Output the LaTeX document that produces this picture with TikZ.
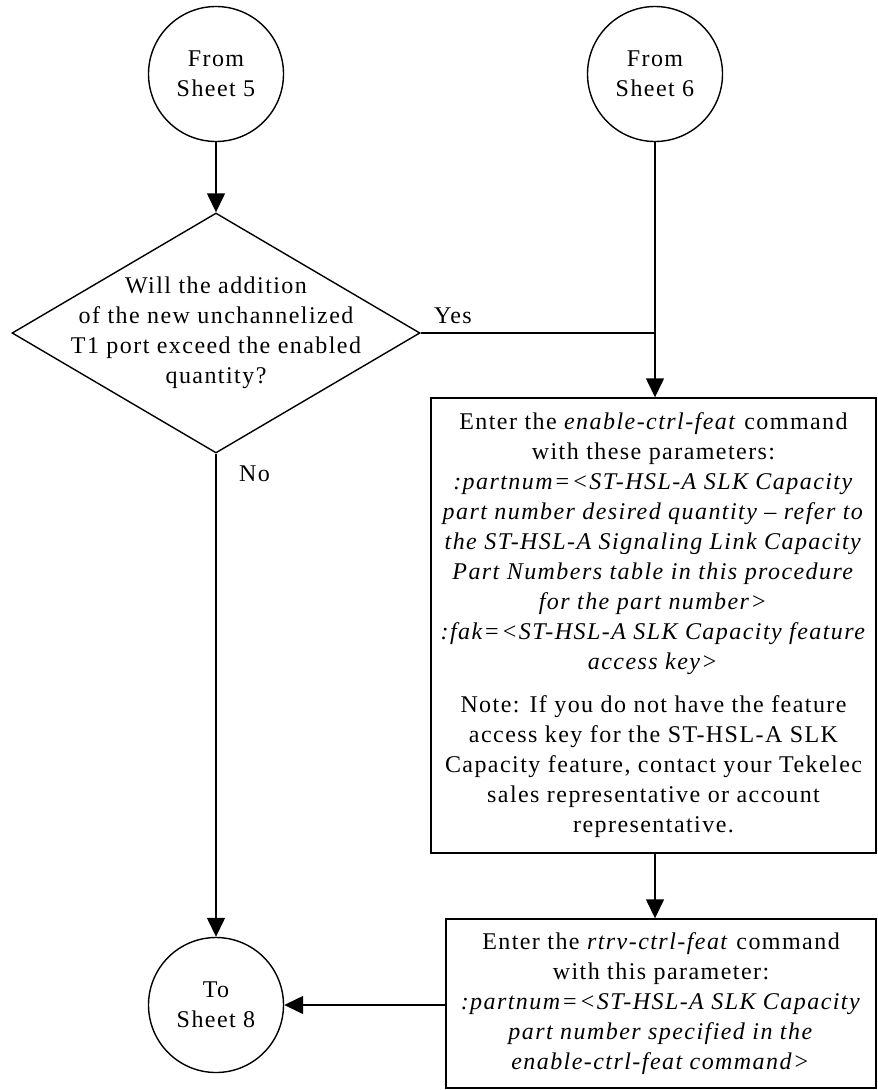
\documentclass[tikz,border=0pt]{standalone}
\usepackage{fontspec}
\setmainfont{Liberation Serif}[LetterSpace=6]
\usetikzlibrary{shapes.geometric,arrows.meta}
\begin{document}
\begin{tikzpicture}[x=1pt,y=-1pt,line width=1.4pt,
  font=\fontsize{24}{30}\selectfont,
  arr/.style={-{Triangle[width=18pt,length=19pt]}},
  conn/.style={circle,draw,minimum size=135pt,inner sep=0pt,align=center},
  procbox/.style={rectangle,draw,inner sep=4pt,align=center}]
\fill[white] (0,0) rectangle (878,1090);
\useasboundingbox (0,0) rectangle (878,1090);

\node[conn] (s5) at (216,74) {From\\Sheet 5};
\node[conn] (s6) at (655,74) {From\\Sheet 6};
\node[diamond,draw,minimum width=408pt,minimum height=240pt,inner sep=0pt] (d) at (216,333) {};
\node[align=center,inner sep=0pt] (dt) at (d.center) {Will the addition\\of the new unchannelized\\T1 port exceed the enabled\\quantity?};

\node[procbox,minimum width=445pt,minimum height=455pt] (b1) at (653.5,625.5) {%
Enter the \textit{enable-ctrl-feat} command\\
with these parameters:\\
\textit{:partnum=<ST-HSL-A SLK Capacity}\\
\textit{part number desired quantity – refer to}\\
\textit{the ST-HSL-A Signaling Link Capacity}\\
\textit{Part Numbers table in this procedure}\\
\textit{for the part number>}\\
\textit{:fak=<ST-HSL-A SLK Capacity feature}\\
\textit{access key>}\\[13pt]
Note: If you do not have the feature\\
access key for the ST-HSL-A SLK\\
Capacity feature, contact your Tekelec\\
sales representative or account\\
representative.};

\node[procbox,minimum width=430pt,minimum height=169pt] (b2) at (661,1003.5) {%
Enter the \textit{rtrv-ctrl-feat} command\\
with this parameter:\\
\textit{:partnum=<ST-HSL-A SLK Capacity}\\
\textit{part number specified in the}\\
\textit{enable-ctrl-feat command>}};

\node[conn] (s8) at (216,1005) {To\\Sheet 8};

\coordinate (yj) at (d.east -| s6.south);
\draw[arr] (s5.south) -- (d.north);
\draw (d.east) -- (yj);
\draw[arr] (s6.south) -- (s6.south |- b1.north);
\draw[arr] (s6.south |- b1.south) -- (s6.south |- b2.north);
\draw[arr] (d.south) -- (s8.north);
\draw[arr] (s8.east -| b2.west) -- (s8.east);

\node[anchor=base west] (yes) at (430,323) {Yes};
\node[anchor=base west] (no) at (235,481) {No};
\end{tikzpicture}
\end{document}
